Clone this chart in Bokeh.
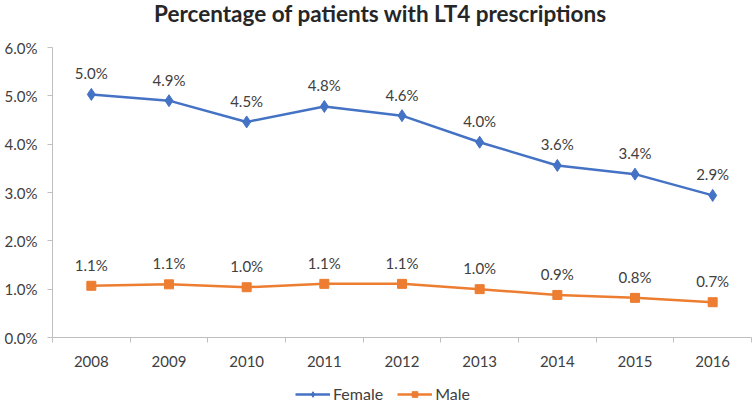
from bokeh.plotting import figure
from bokeh.layouts import column
from bokeh.models import (FixedTicker, PrintfTickFormatter, Legend, LegendItem,
                          ColumnDataSource, Range1d, LabelSet, Label)
from bokeh.core.properties import value
from bokeh.embed import file_html
from bokeh.resources import INLINE

years = ["2008", "2009", "2010", "2011", "2012", "2013", "2014", "2015", "2016"]
female = [5.03, 4.90, 4.46, 4.78, 4.59, 4.04, 3.56, 3.38, 2.94]
male = [1.07, 1.10, 1.04, 1.11, 1.11, 1.00, 0.88, 0.82, 0.73]
y_ticks = [0, 1, 2, 3, 4, 5, 6]
title_text = "Percentage of patients with LT4 prescriptions"
series_names = ["Female", "Male"]

FONT = "Lato"
TXT = "#404040"
BLUE = "#4472C4"
ORANGE = "#ED7D31"
W = 755


def bare(h):
    f = figure(width=W, height=h, output_backend="svg", toolbar_location=None,
               x_range=Range1d(0, 1), y_range=Range1d(-20, -19),
               x_axis_type=None, y_axis_type=None, min_border=0)
    f.outline_line_color = None
    f.xgrid.visible = False
    f.ygrid.visible = False
    return f


# ---- title strip
t = bare(30)
t.add_layout(Label(x=328, y=17, x_units="screen", y_units="screen", text=title_text,
                   text_font=FONT, text_font_size="22.5px", text_font_style="bold",
                   text_color="#262626", text_baseline="alphabetic", text_align="center"))

# ---- main chart
x = list(range(len(years)))
src_f = ColumnDataSource(dict(x=x, y=female, lab=[f"{v:.1f}%" for v in female]))
src_m = ColumnDataSource(dict(x=x, y=male, lab=[f"{v:.1f}%" for v in male]))

p = figure(frame_width=699, frame_height=290, output_backend="svg", toolbar_location=None,
           x_range=Range1d(-0.5, len(years) - 0.5), y_range=Range1d(0, 6),
           min_border_left=52, min_border_right=4, min_border_top=17, min_border_bottom=38)
p.outline_line_color = None
p.xgrid.visible = False
p.ygrid.visible = False

p.yaxis.ticker = FixedTicker(ticks=y_ticks)
p.yaxis.formatter = PrintfTickFormatter(format="%.1f%%")
p.yaxis.axis_line_color = "#BFBFBF"
p.yaxis.major_tick_line_color = "#BFBFBF"
p.yaxis.major_tick_out = 5
p.yaxis.major_tick_in = 0
p.yaxis.minor_tick_line_color = None
p.yaxis.major_label_text_font = FONT
p.yaxis.major_label_text_font_size = "15px"
p.yaxis.major_label_text_color = TXT
p.yaxis.major_label_standoff = 10

p.xaxis.ticker = FixedTicker(ticks=x, minor_ticks=[i - 0.5 for i in range(len(years) + 1)])
p.xaxis.major_label_overrides = {i: y for i, y in enumerate(years)}
p.xaxis.axis_line_color = "#BFBFBF"
p.xaxis.major_tick_line_color = None
p.xaxis.major_tick_out = 0
p.xaxis.major_tick_in = 0
p.xaxis.minor_tick_line_color = "#BFBFBF"
p.xaxis.minor_tick_out = 5
p.xaxis.minor_tick_in = 0
p.xaxis.major_label_text_font = FONT
p.xaxis.major_label_text_font_size = "15px"
p.xaxis.major_label_text_color = TXT
p.xaxis.major_label_standoff = 13

p.line("x", "y", source=src_f, line_color=BLUE, line_width=2.5)
p.scatter("x", "y", source=src_f, marker="diamond", size=12, fill_color=BLUE, line_color=BLUE)
p.line("x", "y", source=src_m, line_color=ORANGE, line_width=2.5)
p.scatter("x", "y", source=src_m, marker="square", size=9, fill_color=ORANGE, line_color=ORANGE)

for src in (src_f, src_m):
    p.add_layout(LabelSet(x="x", y="y", text="lab", source=src, y_offset=12,
                          text_align="center", text_baseline="bottom",
                          text_font=value(FONT), text_font_size=value("15px"), text_color=TXT))

# ---- legend strip (series drawn out of view; only their legend glyphs show)
lg = bare(29)
lf = lg.line("x", "y", source=src_f, line_color=BLUE, line_width=2.5)
sf = lg.scatter("x", "y", source=src_f, marker="diamond", size=12, fill_color=BLUE, line_color=BLUE)
lm = lg.line("x", "y", source=src_m, line_color=ORANGE, line_width=2.5)
sm = lg.scatter("x", "y", source=src_m, marker="square", size=9, fill_color=ORANGE, line_color=ORANGE)
legend = Legend(items=[LegendItem(label=series_names[0], renderers=[lf, sf]),
                       LegendItem(label=series_names[1], renderers=[lm, sm])],
                orientation="horizontal", location=(243, 1),
                glyph_width=35, glyph_height=14, spacing=14, label_standoff=3,
                padding=0, margin=0, border_line_color=None, background_fill_alpha=0,
                label_text_font=FONT, label_text_font_size="16px", label_text_color=TXT)
lg.add_layout(legend, "center")

layout = column(t, p, lg, spacing=0)
open("out.html", "w").write(file_html(layout, INLINE))
